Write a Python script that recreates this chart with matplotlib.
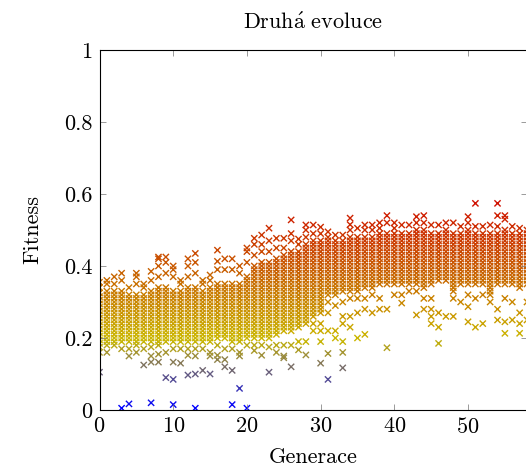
import numpy as np
import matplotlib
matplotlib.use("Agg")
import matplotlib.pyplot as plt
from matplotlib.colors import LinearSegmentedColormap

plt.rcParams['font.family'] = 'serif'
plt.rcParams['font.serif'] = ['cmr10']
plt.rcParams['mathtext.fontset'] = 'cm'
plt.rcParams['axes.formatter.use_mathtext'] = True

# fitness of every individual, one list per generation
gen00 = [0.105, 0.16, 0.175, 0.185, 0.195, 0.205, 0.215, 0.225, 0.235, 0.245, 0.255, 0.265, 0.275, 0.285, 0.295, 0.305, 0.315, 0.325, 0.34, 0.355]
gen01 = [0.16, 0.18, 0.19, 0.2, 0.21, 0.22, 0.23, 0.24, 0.25, 0.26, 0.27, 0.28, 0.29, 0.3, 0.31, 0.32, 0.33, 0.35, 0.36]
gen02 = [0.18, 0.19, 0.2, 0.21, 0.22, 0.23, 0.24, 0.25, 0.26, 0.27, 0.28, 0.29, 0.3, 0.31, 0.32, 0.33, 0.35, 0.37]
gen03 = [0.005, 0.17, 0.19, 0.2, 0.21, 0.22, 0.23, 0.24, 0.25, 0.26, 0.27, 0.28, 0.29, 0.3, 0.31, 0.32, 0.33, 0.36, 0.38]
gen04 = [0.017, 0.15, 0.17, 0.19, 0.2, 0.21, 0.22, 0.23, 0.24, 0.25, 0.26, 0.27, 0.28, 0.29, 0.3, 0.31, 0.32, 0.34]
gen05 = [0.16, 0.18, 0.19, 0.2, 0.21, 0.22, 0.23, 0.24, 0.25, 0.26, 0.27, 0.28, 0.29, 0.3, 0.31, 0.32, 0.35, 0.37, 0.38]
gen06 = [0.125, 0.17, 0.19, 0.2, 0.21, 0.22, 0.23, 0.24, 0.25, 0.26, 0.27, 0.28, 0.29, 0.3, 0.31, 0.32, 0.34, 0.35]
gen07 = [0.02, 0.133, 0.15, 0.175, 0.19, 0.2, 0.21, 0.22, 0.23, 0.24, 0.25, 0.26, 0.27, 0.28, 0.29, 0.3, 0.31, 0.32, 0.33, 0.36, 0.385]
gen08 = [0.133, 0.155, 0.18, 0.19, 0.2, 0.21, 0.22, 0.23, 0.24, 0.25, 0.26, 0.27, 0.28, 0.29, 0.3, 0.31, 0.32, 0.33, 0.34, 0.37, 0.4, 0.42, 0.425]
gen09 = [0.09, 0.16, 0.19, 0.2, 0.21, 0.22, 0.23, 0.24, 0.25, 0.26, 0.27, 0.28, 0.29, 0.3, 0.31, 0.32, 0.33, 0.34, 0.38, 0.41, 0.425]
gen10 = [0.015, 0.085, 0.133, 0.17, 0.19, 0.2, 0.21, 0.22, 0.23, 0.24, 0.25, 0.26, 0.27, 0.28, 0.29, 0.3, 0.31, 0.32, 0.33, 0.37, 0.39, 0.4]
gen11 = [0.13, 0.17, 0.19, 0.2, 0.21, 0.22, 0.23, 0.24, 0.25, 0.26, 0.27, 0.28, 0.29, 0.3, 0.31, 0.32, 0.33, 0.35, 0.36]
gen12 = [0.097, 0.152, 0.17, 0.19, 0.2, 0.21, 0.22, 0.23, 0.24, 0.25, 0.26, 0.27, 0.28, 0.29, 0.3, 0.31, 0.32, 0.33, 0.34, 0.37, 0.4, 0.42]
gen13 = [0.005, 0.1, 0.15, 0.17, 0.19, 0.2, 0.21, 0.22, 0.23, 0.24, 0.25, 0.26, 0.27, 0.28, 0.29, 0.3, 0.31, 0.32, 0.33, 0.34, 0.38, 0.41, 0.435]
gen14 = [0.11, 0.17, 0.19, 0.2, 0.21, 0.22, 0.23, 0.24, 0.25, 0.26, 0.27, 0.28, 0.29, 0.3, 0.31, 0.32, 0.33, 0.35, 0.36]
gen15 = [0.1, 0.15, 0.16, 0.19, 0.2, 0.21, 0.22, 0.23, 0.24, 0.25, 0.26, 0.27, 0.28, 0.29, 0.3, 0.31, 0.32, 0.33, 0.34, 0.36, 0.375]
gen16 = [0.14, 0.152, 0.18, 0.2, 0.21, 0.22, 0.23, 0.24, 0.25, 0.26, 0.27, 0.28, 0.29, 0.3, 0.31, 0.32, 0.33, 0.34, 0.35, 0.39, 0.413, 0.444]
gen17 = [0.12, 0.14, 0.17, 0.2, 0.21, 0.22, 0.23, 0.24, 0.25, 0.26, 0.27, 0.28, 0.29, 0.3, 0.31, 0.32, 0.33, 0.34, 0.35, 0.39, 0.42]
gen18 = [0.015, 0.11, 0.17, 0.19, 0.2, 0.21, 0.22, 0.23, 0.24, 0.25, 0.26, 0.27, 0.28, 0.29, 0.3, 0.31, 0.32, 0.33, 0.34, 0.35, 0.39, 0.42]
gen19 = [0.06, 0.15, 0.16, 0.19, 0.2, 0.21, 0.22, 0.23, 0.24, 0.25, 0.26, 0.27, 0.28, 0.29, 0.3, 0.31, 0.32, 0.33, 0.34, 0.35, 0.38, 0.4]
gen20 = [0.005, 0.18, 0.2, 0.21, 0.22, 0.23, 0.24, 0.25, 0.26, 0.27, 0.28, 0.29, 0.3, 0.31, 0.32, 0.33, 0.34, 0.35, 0.36, 0.37, 0.41, 0.44, 0.45]
gen21 = [0.165, 0.18, 0.2, 0.21, 0.22, 0.23, 0.24, 0.25, 0.26, 0.27, 0.28, 0.29, 0.3, 0.31, 0.32, 0.33, 0.34, 0.35, 0.36, 0.37, 0.38, 0.39, 0.4, 0.43, 0.46, 0.477]
gen22 = [0.152, 0.18, 0.2, 0.21, 0.22, 0.23, 0.24, 0.25, 0.26, 0.27, 0.28, 0.29, 0.3, 0.31, 0.32, 0.33, 0.34, 0.35, 0.36, 0.37, 0.38, 0.39, 0.4, 0.41, 0.44, 0.46, 0.486]
gen23 = [0.105, 0.175, 0.2, 0.21, 0.22, 0.23, 0.24, 0.25, 0.26, 0.27, 0.28, 0.29, 0.3, 0.31, 0.32, 0.33, 0.34, 0.35, 0.36, 0.37, 0.38, 0.39, 0.4, 0.41, 0.44, 0.47, 0.505]
gen24 = [0.16, 0.18, 0.21, 0.22, 0.23, 0.24, 0.25, 0.26, 0.27, 0.28, 0.29, 0.3, 0.31, 0.32, 0.33, 0.34, 0.35, 0.36, 0.37, 0.38, 0.39, 0.4, 0.41, 0.42, 0.45, 0.477]
gen25 = [0.145, 0.15, 0.18, 0.22, 0.23, 0.24, 0.25, 0.26, 0.27, 0.28, 0.29, 0.3, 0.31, 0.32, 0.33, 0.34, 0.35, 0.36, 0.37, 0.38, 0.39, 0.4, 0.41, 0.42, 0.43, 0.45, 0.477]
gen26 = [0.12, 0.18, 0.22, 0.23, 0.24, 0.25, 0.26, 0.27, 0.28, 0.29, 0.3, 0.31, 0.32, 0.33, 0.34, 0.35, 0.36, 0.37, 0.38, 0.39, 0.4, 0.41, 0.42, 0.43, 0.44, 0.47, 0.49, 0.528]
gen27 = [0.167, 0.19, 0.23, 0.24, 0.25, 0.26, 0.27, 0.28, 0.29, 0.3, 0.31, 0.32, 0.33, 0.34, 0.35, 0.36, 0.37, 0.38, 0.39, 0.4, 0.41, 0.42, 0.43, 0.44, 0.46, 0.475]
gen28 = [0.153, 0.19, 0.24, 0.25, 0.26, 0.27, 0.28, 0.29, 0.3, 0.31, 0.32, 0.33, 0.34, 0.35, 0.36, 0.37, 0.38, 0.39, 0.4, 0.41, 0.42, 0.43, 0.44, 0.45, 0.46, 0.48, 0.5, 0.514]
gen29 = [0.22, 0.24, 0.26, 0.27, 0.28, 0.29, 0.3, 0.31, 0.32, 0.33, 0.34, 0.35, 0.36, 0.37, 0.38, 0.39, 0.4, 0.41, 0.42, 0.43, 0.44, 0.45, 0.46, 0.47, 0.49, 0.514]
gen30 = [0.13, 0.19, 0.22, 0.24, 0.27, 0.28, 0.29, 0.3, 0.31, 0.32, 0.33, 0.34, 0.35, 0.36, 0.37, 0.38, 0.39, 0.4, 0.41, 0.42, 0.43, 0.44, 0.45, 0.46, 0.47, 0.49, 0.508]
gen31 = [0.085, 0.157, 0.22, 0.27, 0.3, 0.32, 0.33, 0.34, 0.35, 0.36, 0.37, 0.38, 0.39, 0.4, 0.41, 0.42, 0.43, 0.44, 0.45, 0.46, 0.47, 0.48, 0.495]
gen32 = [0.2, 0.22, 0.29, 0.32, 0.33, 0.34, 0.35, 0.36, 0.37, 0.38, 0.39, 0.4, 0.41, 0.42, 0.43, 0.44, 0.45, 0.46, 0.47, 0.486]
gen33 = [0.117, 0.16, 0.19, 0.24, 0.26, 0.3, 0.33, 0.34, 0.35, 0.36, 0.37, 0.38, 0.39, 0.4, 0.41, 0.42, 0.43, 0.44, 0.45, 0.46, 0.47, 0.486]
gen34 = [0.23, 0.26, 0.31, 0.33, 0.34, 0.35, 0.36, 0.37, 0.38, 0.39, 0.4, 0.41, 0.42, 0.43, 0.44, 0.45, 0.46, 0.47, 0.48, 0.5, 0.515, 0.533]
gen35 = [0.2, 0.27, 0.31, 0.33, 0.34, 0.35, 0.36, 0.37, 0.38, 0.39, 0.4, 0.41, 0.42, 0.43, 0.44, 0.45, 0.46, 0.47, 0.48, 0.505]
gen36 = [0.21, 0.28, 0.31, 0.34, 0.35, 0.36, 0.37, 0.38, 0.39, 0.4, 0.41, 0.42, 0.43, 0.44, 0.45, 0.46, 0.47, 0.48, 0.5, 0.514]
gen37 = [0.27, 0.32, 0.34, 0.35, 0.36, 0.37, 0.38, 0.39, 0.4, 0.41, 0.42, 0.43, 0.44, 0.45, 0.46, 0.47, 0.48, 0.5, 0.514]
gen38 = [0.28, 0.31, 0.35, 0.36, 0.37, 0.38, 0.39, 0.4, 0.41, 0.42, 0.43, 0.44, 0.45, 0.46, 0.47, 0.48, 0.49, 0.505, 0.52]
gen39 = [0.173, 0.28, 0.35, 0.36, 0.37, 0.38, 0.39, 0.4, 0.41, 0.42, 0.43, 0.44, 0.45, 0.46, 0.47, 0.48, 0.49, 0.52, 0.54]
gen40 = [0.32, 0.35, 0.36, 0.37, 0.38, 0.39, 0.4, 0.41, 0.42, 0.43, 0.44, 0.45, 0.46, 0.47, 0.48, 0.49, 0.505, 0.52]
gen41 = [0.297, 0.32, 0.35, 0.36, 0.37, 0.38, 0.39, 0.4, 0.41, 0.42, 0.43, 0.44, 0.45, 0.46, 0.47, 0.48, 0.49, 0.514]
gen42 = [0.33, 0.35, 0.36, 0.37, 0.38, 0.39, 0.4, 0.41, 0.42, 0.43, 0.44, 0.45, 0.46, 0.47, 0.48, 0.49, 0.514]
gen43 = [0.264, 0.33, 0.35, 0.36, 0.37, 0.38, 0.39, 0.4, 0.41, 0.42, 0.43, 0.44, 0.45, 0.46, 0.47, 0.48, 0.49, 0.5, 0.52, 0.537]
gen44 = [0.28, 0.31, 0.34, 0.35, 0.36, 0.37, 0.38, 0.39, 0.4, 0.41, 0.42, 0.43, 0.44, 0.45, 0.46, 0.47, 0.48, 0.49, 0.5, 0.52, 0.54]
gen45 = [0.24, 0.26, 0.28, 0.31, 0.35, 0.36, 0.37, 0.38, 0.39, 0.4, 0.41, 0.42, 0.43, 0.44, 0.45, 0.46, 0.47, 0.48, 0.49, 0.514]
gen46 = [0.185, 0.23, 0.27, 0.36, 0.37, 0.38, 0.39, 0.4, 0.41, 0.42, 0.43, 0.44, 0.45, 0.46, 0.47, 0.48, 0.49, 0.514]
gen47 = [0.26, 0.36, 0.37, 0.38, 0.39, 0.4, 0.41, 0.42, 0.43, 0.44, 0.45, 0.46, 0.47, 0.48, 0.49, 0.5, 0.52]
gen48 = [0.26, 0.31, 0.33, 0.34, 0.35, 0.36, 0.37, 0.38, 0.39, 0.4, 0.41, 0.42, 0.43, 0.44, 0.45, 0.46, 0.47, 0.48, 0.49, 0.52]
gen49 = [0.3, 0.35, 0.36, 0.37, 0.38, 0.39, 0.4, 0.41, 0.42, 0.43, 0.44, 0.45, 0.46, 0.47, 0.48, 0.49, 0.51]
gen50 = [0.245, 0.287, 0.32, 0.35, 0.36, 0.37, 0.38, 0.39, 0.4, 0.41, 0.42, 0.43, 0.44, 0.45, 0.46, 0.47, 0.48, 0.49, 0.5, 0.52, 0.537]
gen51 = [0.23, 0.31, 0.35, 0.36, 0.37, 0.38, 0.39, 0.4, 0.41, 0.42, 0.43, 0.44, 0.45, 0.46, 0.47, 0.48, 0.49, 0.51, 0.574]
gen52 = [0.24, 0.32, 0.35, 0.36, 0.37, 0.38, 0.39, 0.4, 0.41, 0.42, 0.43, 0.44, 0.45, 0.46, 0.47, 0.48, 0.49, 0.51]
gen53 = [0.3, 0.32, 0.33, 0.34, 0.35, 0.36, 0.37, 0.38, 0.39, 0.4, 0.41, 0.42, 0.43, 0.44, 0.45, 0.46, 0.47, 0.48, 0.49, 0.514]
gen54 = [0.25, 0.28, 0.35, 0.36, 0.37, 0.38, 0.39, 0.4, 0.41, 0.42, 0.43, 0.44, 0.45, 0.46, 0.47, 0.48, 0.49, 0.51, 0.54, 0.574]
gen55 = [0.213, 0.245, 0.31, 0.35, 0.36, 0.37, 0.38, 0.39, 0.4, 0.41, 0.42, 0.43, 0.44, 0.45, 0.46, 0.47, 0.48, 0.49, 0.5, 0.53, 0.54]
gen56 = [0.25, 0.3, 0.35, 0.36, 0.37, 0.38, 0.39, 0.4, 0.41, 0.42, 0.43, 0.44, 0.45, 0.46, 0.47, 0.48, 0.49, 0.51]
gen57 = [0.213, 0.24, 0.27, 0.34, 0.35, 0.36, 0.37, 0.38, 0.39, 0.4, 0.41, 0.42, 0.43, 0.44, 0.45, 0.46, 0.47, 0.48, 0.49, 0.505]
gen58 = [0.25, 0.3, 0.35, 0.36, 0.37, 0.38, 0.39, 0.4, 0.41, 0.42, 0.43, 0.44, 0.45, 0.46, 0.47, 0.48, 0.49, 0.5]

generations = [gen00, gen01, gen02, gen03, gen04, gen05, gen06, gen07, gen08, gen09,
               gen10, gen11, gen12, gen13, gen14, gen15, gen16, gen17, gen18, gen19,
               gen20, gen21, gen22, gen23, gen24, gen25, gen26, gen27, gen28, gen29,
               gen30, gen31, gen32, gen33, gen34, gen35, gen36, gen37, gen38, gen39,
               gen40, gen41, gen42, gen43, gen44, gen45, gen46, gen47, gen48, gen49,
               gen50, gen51, gen52, gen53, gen54, gen55, gen56, gen57, gen58]

x_ticks = [0, 10, 20, 30, 40, 50]
y_ticks = [0, 0.2, 0.4, 0.6, 0.8, 1]
y_ticklabels = ["0", "0.2", "0.4", "0.6", "0.8", "1"]

fontsize = 16

# pgfplots "hot" colormap (blue -> yellow -> orange -> red), a bit darker
hot = LinearSegmentedColormap.from_list("hot_pgf", ["#0000ff", "#cbb800", "#c86000", "#d01000"])

gen_x = np.concatenate([np.full(len(vals), g) for g, vals in enumerate(generations)])
fit_y = np.concatenate([np.array(vals) for vals in generations])

fig = plt.figure(figsize=(5.26, 4.71), dpi=100)
W, H = 526, 471
left, right, top, bottom = 99.5, 527, 50, 410
ax = fig.add_axes([left / W, (H - bottom) / H, (right - left) / W, (bottom - top) / H])

ax.scatter(gen_x, fit_y, c=fit_y, cmap=hot, vmin=fit_y.min(), vmax=fit_y.max(),
           marker="x", s=20, linewidths=1.0)

ax.set_xlim(0, 58)
ax.set_ylim(0, 1)
ax.set_xticks(x_ticks)
ax.set_yticks(y_ticks)
ax.set_yticklabels(y_ticklabels)
ax.tick_params(direction="in", length=4, width=0.5, color="0.45", labelsize=fontsize,
               top=True, right=True, pad=5)
for sp in ax.spines.values():
    sp.set_linewidth(0.8)

ax.set_title(r"$\mathrm{Druh\acute{a}\ evoluce}$", fontsize=fontsize, pad=15)
ax.set_xlabel("Generace", fontsize=fontsize)
ax.set_ylabel("Fitness", fontsize=fontsize)
ax.xaxis.set_label_coords(0.5, -0.105)
ax.yaxis.set_label_coords(-0.135, 0.5)

fig.savefig("out.png", dpi=100)
